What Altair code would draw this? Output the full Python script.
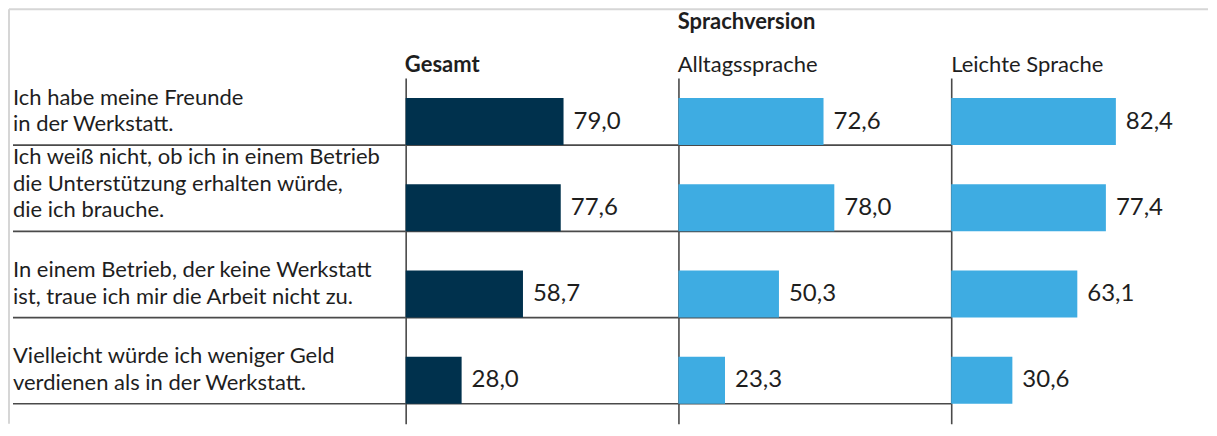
import altair as alt
import pandas as pd

# ---- data ----
row_ids = ["r1", "r2", "r3", "r4"]
statements = [
    "Ich habe meine Freunde|in der Werkstatt.",
    "Ich weiß nicht, ob ich in einem Betrieb|die Unterstützung erhalten würde,|die ich brauche.",
    "In einem Betrieb, der keine Werkstatt|ist, traue ich mir die Arbeit nicht zu.",
    "Vielleicht würde ich weniger Geld|verdienen als in der Werkstatt.",
]
gesamt = [79.0, 77.6, 58.7, 28.0]
alltagssprache = [72.6, 78.0, 50.3, 23.3]
leichte_sprache = [82.4, 77.4, 63.1, 30.6]
group_title = "Sprachversion"
panel_titles = ["Gesamt", "Alltagssprache", "Leichte Sprache"]

# ---- styles ----
FONT = "Lato"
TXT = "#1e1e1e"
DARK = "#00314d"
LIGHT = "#3eace2"
LINE = "#4a4a4a"
H = 346
LH = 26.5

yscale = alt.Scale(domain=row_ids, paddingInner=0.455, paddingOuter=0.232)

# statement lines, counted from the bottom line of each statement
recs = []
for rid, s in zip(row_ids, statements):
    for k, line in enumerate(reversed(s.split("|"))):
        recs.append({"row": rid, "k": k, "text": line})
labels_df = pd.DataFrame(recs)


def panel(values, color, width, title, with_sep=True):
    df = pd.DataFrame({"row": row_ids, "v": values})
    base = alt.Chart(df).transform_calculate(
        lab="replace(format(datum.v, '.1f'), '.', ',')"
    )
    bars = base.mark_bar(color=color).encode(
        x=alt.X("v:Q", scale=alt.Scale(domain=[0, width / 2], nice=False, zero=True), axis=None),
        y=alt.Y("row:N", scale=yscale,
                axis=alt.Axis(labels=False, ticks=False, title=None, grid=False,
                              domainColor=LINE, domainWidth=1.6)),
    )
    text = base.mark_text(align="left", baseline="middle", dx=10, fontSize=24,
                          font=FONT, color=TXT).encode(
        x=alt.X("v:Q"), y=alt.Y("row:N"), text="lab:N"
    )
    layers = [bars, text]
    if with_sep:
        sep = base.mark_rule(color=LINE, strokeWidth=1.6).encode(
            y=alt.Y("row:N", bandPosition=1)
        )
        layers.insert(0, sep)
    return alt.layer(*layers).properties(width=width, height=H, title=title)


# label column
lab_base = alt.Chart(labels_df)
lab_layers = []
for k in range(3):
    lab_layers.append(
        lab_base.transform_filter(alt.datum.k == k).mark_text(
            align="left", baseline="bottom", dy=-9 - LH * k, fontSize=22,
            font=FONT, color=TXT).encode(
            x=alt.value(0),
            y=alt.Y("row:N", scale=yscale, axis=None, bandPosition=1),
            text="text:N",
        )
    )
lab_sep = alt.Chart(pd.DataFrame({"row": row_ids})).mark_rule(color=LINE, strokeWidth=1.6).encode(
    y=alt.Y("row:N", scale=yscale, axis=None, bandPosition=1)
)
frame_src = alt.Chart(alt.Data(values=[{}]))
frame_top = frame_src.mark_rule(color="#d6d6d6", strokeWidth=2).encode(
    x=alt.value(-4), x2=alt.value(1196), y=alt.value(-69)
)
frame_left = frame_src.mark_rule(color="#d6d6d6", strokeWidth=2).encode(
    x=alt.value(-4), y=alt.value(-69), y2=alt.value(H)
)
label_panel = alt.layer(frame_top, frame_left, lab_sep, *lab_layers).properties(width=393, height=H)

title_common = dict(anchor="start", font=FONT, color=TXT, offset=1)

p1 = panel(gesamt, DARK, 273,
           alt.TitleParams(text=panel_titles[0], fontSize=22, fontWeight="bold", **title_common))
p2 = panel(alltagssprache, LIGHT, 273,
           alt.TitleParams(text=group_title, fontSize=22, fontWeight="bold",
                           subtitle=panel_titles[1], subtitleFont=FONT, subtitleFontSize=22,
                           subtitleColor=TXT, subtitlePadding=21, **title_common))
p3 = panel(leichte_sprache, LIGHT, 250,
           alt.TitleParams(text=panel_titles[2], fontSize=22, fontWeight="normal", **title_common),
           with_sep=False)

chart = alt.hconcat(label_panel, p1, p2, p3, spacing=0, bounds="flush").resolve_scale(
    x="independent"
).configure_view(stroke=None).properties(padding=0, background="white")

chart.save("out.html", embed_options={"renderer": "svg", "actions": False})
